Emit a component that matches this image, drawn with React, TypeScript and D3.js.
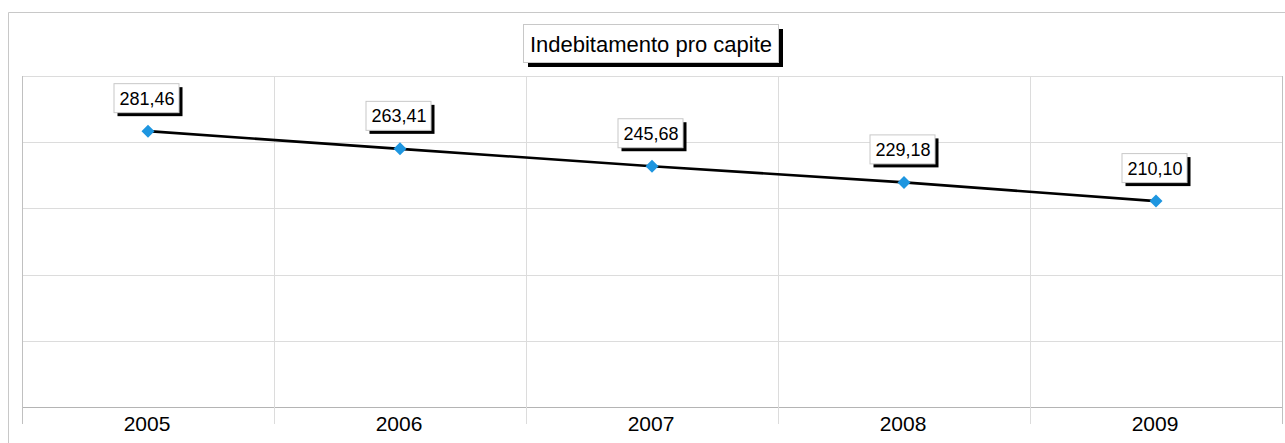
import React from "react";
import * as d3 from "d3";

const years = ["2005", "2006", "2007", "2008", "2009"];
const values = [281.46, 263.41, 245.68, 229.18, 210.1];
const chartTitle = "Indebitamento pro capite";
const yMax = 337.75;
const gridCount = 5;

const W = 1285;
const H = 443;
const plot = { left: 22, right: 1282, top: 76, bottom: 407 };
const FONT = "'Liberation Sans', Arial, sans-serif";

const itLocale = d3.formatLocale({ decimal: ",", thousands: ".", grouping: [3], currency: ["€", ""] });
const fmt = itLocale.format(".2f");

export default function App() {
  const x = d3.scaleBand<string>().domain(years).range([plot.left, plot.right]).padding(0);
  const y = d3.scaleLinear().domain([0, yMax]).range([plot.bottom, plot.top]);
  const gridVals = d3.range(gridCount + 1).map((i) => (yMax * i) / gridCount);
  const cx = (c: string) => (x(c) as number) + x.bandwidth() / 2;
  const line = d3
    .line<number>()
    .x((_, i) => cx(years[i]))
    .y((d) => y(d));
  const boundaries = years.map((c) => x(c) as number).concat([plot.right]);

  return (
    <svg
      width={W}
      height={H}
      style={{ position: "absolute", left: 0, top: 0, background: "#fff" }}
      fontFamily={FONT}
    >
      <rect x={0} y={0} width={W} height={H} fill="#fff" />
      {/* outer frame */}
      <line x1={8.5} y1={12.5} x2={W} y2={12.5} stroke="#c8c8c8" />
      <line x1={8.5} y1={12.5} x2={8.5} y2={H} stroke="#c8c8c8" />
      {/* horizontal grid */}
      {gridVals.map((v, i) => (
        <line
          key={"h" + i}
          x1={plot.left}
          x2={plot.right}
          y1={Math.round(y(v)) + 0.5}
          y2={Math.round(y(v)) + 0.5}
          stroke={i === 0 ? "#b4b4b4" : "#dcdcdc"}
        />
      ))}
      {/* vertical grid + ticks */}
      {boundaries.map((bx, i) => (
        <line
          key={"v" + i}
          x1={Math.round(bx) + 0.5}
          x2={Math.round(bx) + 0.5}
          y1={plot.top}
          y2={plot.bottom + 17}
          stroke={i === 0 || i === boundaries.length - 1 ? "#c0c0c0" : "#dcdcdc"}
        />
      ))}
      {/* category labels */}
      {years.map((c) => (
        <text key={c} x={cx(c) - 1} y={431} fontSize={21} textAnchor="middle" fill="#000">
          {c}
        </text>
      ))}
      {/* line */}
      <path d={line(values) || ""} fill="none" stroke="#000" strokeWidth={2.6} />
      {/* markers */}
      {values.map((v, i) => {
        const px = cx(years[i]);
        const py = y(v);
        const s = 6.5;
        return (
          <path
            key={"m" + i}
            d={`M${px},${py - s}L${px + s},${py}L${px},${py + s}L${px - s},${py}Z`}
            fill="#1e96e0"
          />
        );
      })}
      {/* data labels */}
      {values.map((v, i) => {
        const px = cx(years[i]) - 2;
        const py = y(v);
        const bw = 65;
        const bh = 29;
        const bx = px - bw / 2;
        const by = py - 19 - bh;
        return (
          <g key={"l" + i}>
            <rect x={bx + 4} y={by + 4} width={bw} height={bh} fill="#000" />
            <rect x={bx + 0.5} y={by + 0.5} width={bw} height={bh} fill="#fff" stroke="#c8c8c8" />
            <text x={px + 1} y={by + bh / 2 + 7} fontSize={18} textAnchor="middle" fill="#000">
              {fmt(v)}
            </text>
          </g>
        );
      })}
      {/* title */}
      <g>
        <rect x={528} y={29} width={255} height={38} fill="#000" />
        <rect x={523.5} y={24.5} width={255} height={38} fill="#fff" stroke="#c8c8c8" />
        <text x={651} y={51.5} fontSize={22} textAnchor="middle" fill="#000">
          {chartTitle}
        </text>
      </g>
    </svg>
  );
}
